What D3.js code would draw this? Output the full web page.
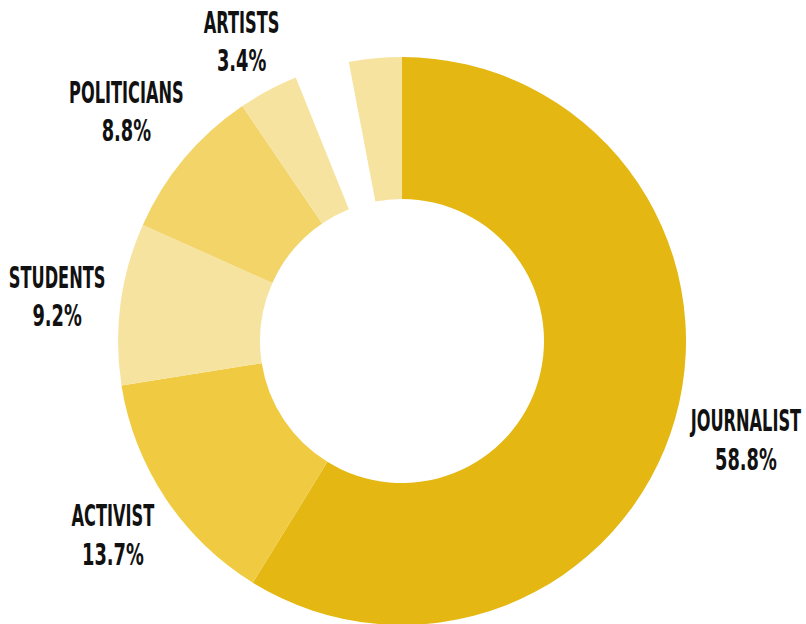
<!DOCTYPE html>
<html>
<head>
<meta charset="utf-8">
<script src="https://cdn.jsdelivr.net/npm/d3@7"></script>
<style>
  html, body { margin: 0; padding: 0; background: #ffffff; }
  svg { display: block; }
  .lbl { font-family: "Liberation Sans Narrow", "DejaVu Sans Condensed", "Roboto", sans-serif; font-weight: bold; fill: #111; }
</style>
</head>
<body>
<svg id="chart" width="806" height="624"></svg>
<script>
// Data (clockwise from 12 o'clock)
const categories = ["JOURNALIST", "ACTIVIST", "STUDENTS", "POLITICIANS", "ARTISTS", "", ""];
const values     = [58.8, 13.7, 9.2, 8.8, 3.4, 3.1, 3.0];
const labels     = ["58.8%", "13.7%", "9.2%", "8.8%", "3.4%", "", ""];
const colors     = ["#E4B713", "#F0CA40", "#F7E3A0", "#F2D469", "#F7E3A0", "none", "#F7E3A0"];

const cx = 402, cy = 341;
const outerR = 284, innerR = 142, labelGap = 296;

const svg = d3.select("#chart");
const g = svg.append("g").attr("transform", `translate(${cx},${cy})`);

const data = categories.map((c, i) => ({ name: c, value: values[i], pct: labels[i], color: colors[i] }));

const pie = d3.pie().sort(null).value(d => d.value).startAngle(0).endAngle(2 * Math.PI);
const arc = d3.arc().innerRadius(innerR).outerRadius(outerR);

const arcs = pie(data);

g.selectAll("path.slice")
  .data(arcs)
  .join("path")
  .attr("class", "slice")
  .attr("d", arc)
  .attr("fill", d => d.data.color);

const lg = g.selectAll("g.label")
  .data(arcs.filter(d => d.data.name))
  .join("g")
  .attr("class", "label");

const fs = 30;
lg.append("text").attr("class", "lbl name")
  .attr("text-anchor", "middle")
  .attr("font-size", fs)
  .attr("y", -7.5)
  .text(d => d.data.name);
lg.append("text").attr("class", "lbl pct")
  .attr("text-anchor", "middle")
  .attr("font-size", fs)
  .attr("y", 31)
  .text(d => d.data.pct);

lg.each(function(d) {
  const grp = d3.select(this);
  let maxW = 0;
  grp.selectAll("text").each(function() {
    const isName = d3.select(this).classed("name");
    const k = isName ? 0.6 : 0.66;
    const w = this.getComputedTextLength() * k;
    d3.select(this).attr("transform", `scale(${k},1)`);
    maxW = Math.max(maxW, w);
  });
  const a = (d.startAngle + d.endAngle) / 2;
  const s = Math.sin(a), c = -Math.cos(a);
  const hw = maxW / 2, hh = 30.5;
  const dist = labelGap + Math.abs(s) * hw + Math.abs(c) * hh;
  grp.attr("transform", `translate(${s * dist},${c * dist})`);
});
</script>
</body>
</html>
